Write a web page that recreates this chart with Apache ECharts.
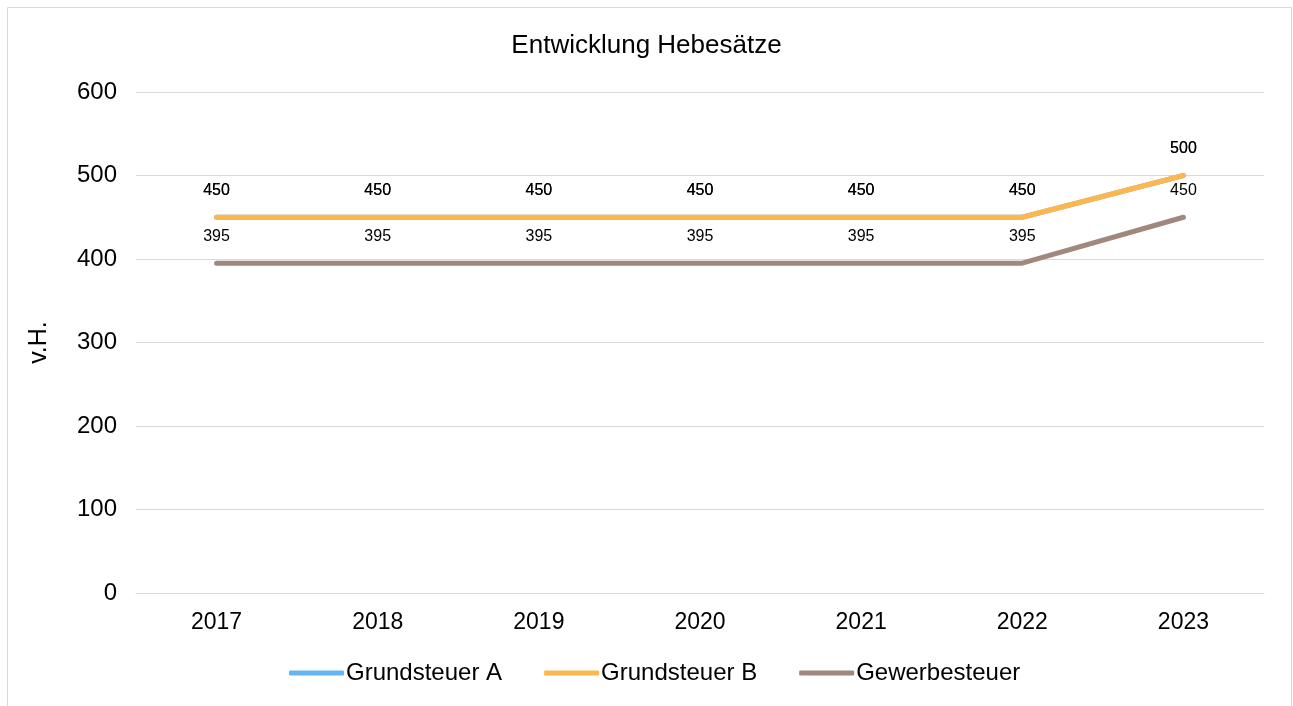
<!DOCTYPE html>
<html><head><meta charset="utf-8">
<script src="https://cdn.jsdelivr.net/npm/echarts@6/dist/echarts.min.js"></script>
<style>html,body{margin:0;padding:0;background:#fff}#c{width:1293px;height:706px}</style>
</head><body><div id="c"></div>
<script>
const categories = ['2017','2018','2019','2020','2021','2022','2023'];
const grundsteuerA = [450,450,450,450,450,450,500];
const grundsteuerB = [450,450,450,450,450,450,500];
const gewerbesteuer = [395,395,395,395,395,395,450];
const seriesNames = ['Grundsteuer A','Grundsteuer B','Gewerbesteuer'];
const colors = ['#64B5F6','#FFB74D','#A1887F'];
const yTicks = {min:0, max:600, interval:100};

const font = '"Liberation Sans", Arial, sans-serif';
const chart = echarts.init(document.getElementById('c'), null, {renderer:'canvas'});
function mk(name, data, color){
  return {
    name, type:'line', data, symbol:'circle', symbolSize:1, showSymbol:true, showAllSymbol:true,
    lineStyle:{color, width:5, cap:'round', join:'round'},
    itemStyle:{color, borderWidth:0},
    label:{show:true, position:'top', distance:18, color:'#000', fontSize:16, fontFamily:font},
    emphasis:{disabled:true}, animation:false
  };
}
chart.setOption({
  animation:false,
  color: colors,
  graphic:[{type:'rect', shape:{x:7.5,y:7.5,width:1284,height:720}, style:{fill:'none', stroke:'#d9d9d9', lineWidth:1}, silent:true}],
  title:{text:'Entwicklung Hebesätze', left:'center', top:28, textStyle:{fontFamily:font, fontSize:26, fontWeight:'normal', color:'#000'}},
  grid:{left:136, right:29, top:92, bottom:113, containLabel:false},
  legend:{bottom:16, left:284, itemWidth:55, itemHeight:5, itemGap:42, icon:'roundRect',
    textStyle:{fontFamily:font, fontSize:24, color:'#000', padding:[0,0,0,-3]}, data:seriesNames},
  xAxis:{type:'category', data:categories, boundaryGap:true,
    axisLine:{show:true, lineStyle:{color:'#d9d9d9'}}, axisTick:{show:false},
    axisLabel:{color:'#000', fontFamily:font, fontSize:23, margin:18}},
  yAxis:{type:'value', min:yTicks.min, max:yTicks.max, interval:yTicks.interval,
    name:'v.H.', nameLocation:'middle', nameGap:84, nameRotate:90,
    nameTextStyle:{color:'#000', fontFamily:font, fontSize:25},
    axisLine:{show:false}, axisTick:{show:false},
    axisLabel:{color:'#000', fontFamily:font, fontSize:24, margin:19},
    splitLine:{lineStyle:{color:'#d9d9d9', width:1}}},
  series:[mk(seriesNames[0], grundsteuerA, colors[0]), mk(seriesNames[1], grundsteuerB, colors[1]), mk(seriesNames[2], gewerbesteuer, colors[2])]
});
</script></body></html>
